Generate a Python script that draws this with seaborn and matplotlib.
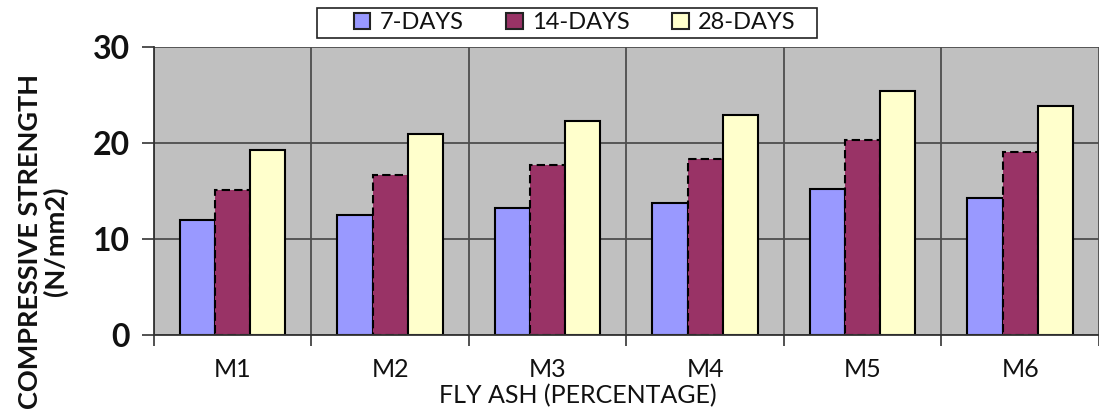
import matplotlib
matplotlib.use("Agg")
import matplotlib.pyplot as plt
from matplotlib.patches import Patch, Rectangle
import seaborn as sns
import pandas as pd

# ---- data ----
mixes = ["M1", "M2", "M3", "M4", "M5", "M6"]
ages = ["7-DAYS", "14-DAYS", "28-DAYS"]
days_7 = [12.0, 12.5, 13.2, 13.8, 15.2, 14.3]
days_14 = [15.1, 16.7, 17.7, 18.3, 20.3, 19.1]
days_28 = [19.3, 20.9, 22.3, 22.9, 25.4, 23.9]
colors = ["#9999FF", "#993366", "#FFFFCC"]

df = pd.DataFrame({
    "mix": mixes * 3,
    "age": [a for a in ages for _ in mixes],
    "strength": days_7 + days_14 + days_28,
})

sns.set_theme(style="white")
plt.rcParams["font.family"] = ["Lato", "DejaVu Sans"]
txt = "#111111"

fig = plt.figure(figsize=(10.99, 4.09), dpi=100)
ax = fig.add_axes([0.14, 0.181, 0.86, 0.704])
sns.barplot(data=df, x="mix", y="strength", hue="age", hue_order=ages,
            palette=colors, saturation=1, width=0.67, edgecolor="black",
            linewidth=1.5, ax=ax)
for bar in ax.containers[1]:
    bar.set_linestyle((0, (4, 2)))
ax.legend_.remove()

ax.set_facecolor("#C0C0C0")
ax.set_axisbelow(True)
ax.set_xlim(-0.5, 5.5)
ax.set_ylim(0, 30)
ax.set_yticks([0, 10, 20, 30])
ax.set_xticks(range(len(mixes)), mixes)
ax.set_xticks([i - 0.5 for i in range(len(mixes) + 1)], minor=True)
ax.grid(axis="y", which="major", color="#4d4d4d", lw=1.3)
ax.grid(axis="x", which="minor", color="#4d4d4d", lw=1.3)
ax.grid(axis="x", which="major", visible=False)
for s in ["top", "right"]:
    ax.spines[s].set_visible(False)
for s in ["left", "bottom"]:
    ax.spines[s].set_color("#333333")
    ax.spines[s].set_linewidth(1.3)

ax.tick_params(axis="y", length=9, width=1.2, color="#333333", pad=8,
               labelsize=23, labelcolor=txt, left=True)
for lab in ax.get_yticklabels():
    lab.set_fontweight("bold")
ax.tick_params(axis="x", which="major", length=0, pad=16.5, labelsize=18, labelcolor=txt)
ax.tick_params(axis="x", which="minor", length=8, width=1.2, color="#333333", bottom=True)

ax.set_ylabel("")
ax.set_xlabel("FLY ASH (PERCENTAGE)", fontsize=18, color=txt)
ax.xaxis.set_label_coords(0.449, -0.169)

fig.text(0.039, 0.41, "COMPRESSIVE STRENGTH\n(N/mm2)", rotation=90,
         ha="center", va="center", ma="center", fontsize=19.5,
         fontweight="bold", color=txt, linespacing=1.0)

# legend box
fig.patches.append(Rectangle((317 / 1099, 1 - 38 / 409), 500 / 1099, 30 / 409,
                             transform=fig.transFigure, facecolor="white",
                             edgecolor="#222222", lw=1.2))
handles = [Patch(facecolor=c, edgecolor="#222222", lw=1.5) for c in colors]
fig.legend(handles, ages, loc="center", bbox_to_anchor=(0.523, 0.944), ncol=3,
           frameon=False, fontsize=17, handlelength=0.7, handleheight=0.7,
           handletextpad=0.4, columnspacing=1.8, labelcolor=txt)

fig.savefig("out.png", dpi=100)
